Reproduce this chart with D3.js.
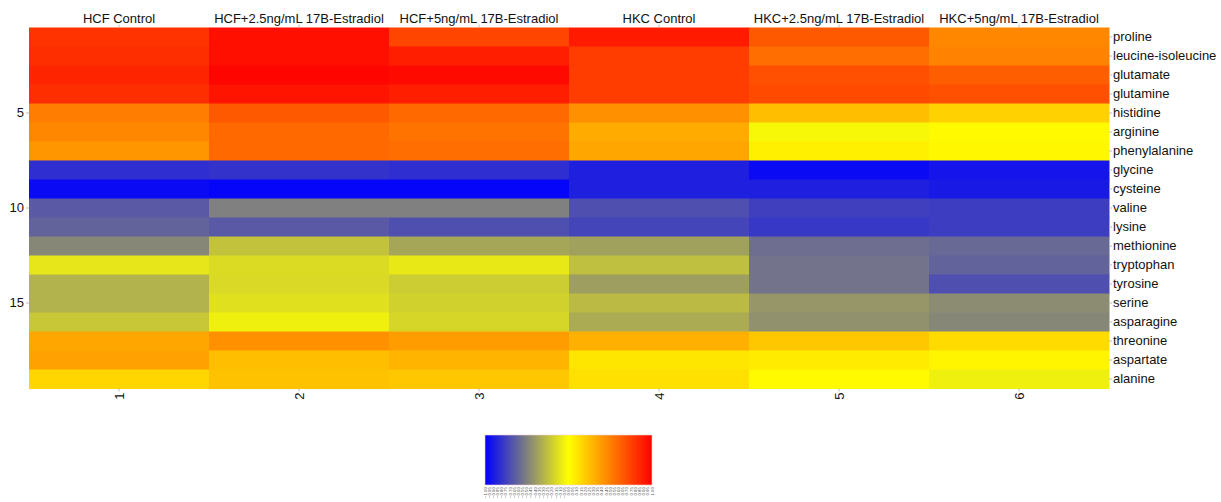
<!DOCTYPE html>
<html>
<head>
<meta charset="utf-8">
<script src="https://cdn.jsdelivr.net/npm/d3@7"></script>
<style>
  html, body { margin: 0; padding: 0; background: #fff; }
  svg { display: block; font-family: "Liberation Sans", Arial, sans-serif; }
</style>
</head>
<body>
<svg id="chart" width="1221" height="502"></svg>
<script>
const columns = ["HCF Control", "HCF+2.5ng/mL 17B-Estradiol", "HCF+5ng/mL 17B-Estradiol",
                 "HKC Control", "HKC+2.5ng/mL 17B-Estradiol", "HKC+5ng/mL 17B-Estradiol"];
const columnIndex = ["1", "2", "3", "4", "5", "6"];
const rows = ["proline", "leucine-isoleucine", "glutamate", "glutamine", "histidine", "arginine",
              "phenylalanine", "glycine", "cysteine", "valine", "lysine", "methionine",
              "tryptophan", "tyrosine", "serine", "asparagine", "threonine", "aspartate", "alanine"];
const rowTicks = [5, 10, 15];

// scaled values per column (-1 = blue, 0 = yellow, 1 = red), one per row
const hcfControl = [0.80, 0.82, 0.86, 0.82, 0.51, 0.47, 0.41, -0.82, -0.96, -0.65, -0.61, -0.47, -0.10, -0.30, -0.30, -0.22, 0.35, 0.37, 0.16];
const hcf25      = [0.94, 0.94, 0.98, 0.92, 0.65, 0.59, 0.59, -0.80, -0.98, -0.50, -0.65, -0.24, -0.14, -0.15, -0.12, -0.06, 0.43, 0.25, 0.24];
const hcf5       = [0.73, 0.88, 0.96, 0.88, 0.59, 0.55, 0.57, -0.82, -0.98, -0.50, -0.69, -0.35, -0.09, -0.20, -0.18, -0.16, 0.39, 0.29, 0.22];
const hkcControl = [0.90, 0.76, 0.76, 0.76, 0.43, 0.33, 0.35, -0.88, -0.88, -0.69, -0.73, -0.37, -0.25, -0.38, -0.27, -0.33, 0.31, 0.10, 0.12];
const hkc25      = [0.65, 0.57, 0.69, 0.71, 0.25, -0.03, 0.06, -0.96, -0.88, -0.75, -0.78, -0.57, -0.55, -0.55, -0.41, -0.43, 0.22, 0.08, 0.02];
const hkc5       = [0.47, 0.49, 0.63, 0.69, 0.18, 0.02, 0.03, -0.92, -0.90, -0.76, -0.76, -0.59, -0.61, -0.69, -0.45, -0.47, 0.14, 0.04, -0.06];
const seriesValues = [hcfControl, hcf25, hcf5, hkcControl, hkc25, hkc5];

(function () {
const cells = [];
seriesValues.forEach((vals, ci) => vals.forEach((v, ri) => cells.push({col: columns[ci], row: rows[ri], v})));

const svg = d3.select("#chart");
const mLeft = 29, mRight = 1109, mTop = 27.5, mBottom = 388.5;

const x = d3.scaleBand().domain(columns).range([mLeft, mRight]).padding(0);
const y = d3.scaleBand().domain(rows).range([mTop, mBottom]).padding(0);
const color = d3.scaleLinear().domain([-1, 0, 1]).range(["#0000ff", "#ffff00", "#ff0000"]).interpolate(d3.interpolateRgb);

svg.append("g").selectAll("rect").data(cells).join("rect")
  .attr("x", d => x(d.col))
  .attr("y", d => y(d.row))
  .attr("width", x.bandwidth() + 0.5)
  .attr("height", y.bandwidth() + 0.5)
  .attr("fill", d => color(d.v));

const tickColor = "#bbb";
const fontSize = 13;
const ff = "Liberation Sans, Arial, sans-serif";

// top axis: column names
const topAxis = svg.append("g").attr("transform", `translate(0,${mTop})`)
  .call(d3.axisTop(x).tickSize(3).tickPadding(2));
topAxis.select(".domain").remove();
topAxis.selectAll("line").attr("stroke", tickColor);
topAxis.selectAll("text").attr("font-size", fontSize).attr("fill", "#111").attr("font-family", ff);

// bottom axis: column indices, rotated
const xIdx = d3.scaleBand().domain(columnIndex).range([mLeft, mRight]);
const botAxis = svg.append("g").attr("transform", `translate(0,${mBottom})`)
  .call(d3.axisBottom(xIdx).tickSize(3).tickPadding(3));
botAxis.select(".domain").remove();
botAxis.selectAll("line").attr("stroke", tickColor);
botAxis.selectAll("text")
  .attr("font-size", fontSize).attr("fill", "#111").attr("font-family", ff)
  .attr("transform", "rotate(-90)")
  .attr("text-anchor", "end")
  .attr("dy", "0.35em")
  .attr("x", -4).attr("y", 0);

// right axis: row names
const rightAxis = svg.append("g").attr("transform", `translate(${mRight},0)`)
  .call(d3.axisRight(y).tickSize(3).tickPadding(1));
rightAxis.select(".domain").remove();
rightAxis.selectAll("line").attr("stroke", tickColor);
rightAxis.selectAll("text").attr("font-size", fontSize).attr("fill", "#111").attr("font-family", ff);

// left axis: row numbers
const yNum = d3.scaleBand().domain(d3.range(1, rows.length + 1)).range([mTop, mBottom]);
const leftAxis = svg.append("g").attr("transform", `translate(${mLeft},0)`)
  .call(d3.axisLeft(yNum).tickValues(rowTicks).tickSize(3).tickPadding(2));
leftAxis.select(".domain").remove();
leftAxis.selectAll("line").attr("stroke", tickColor);
leftAxis.selectAll("text").attr("font-size", fontSize).attr("fill", "#111").attr("font-family", ff);

// colour key
const lx0 = 485, lx1 = 652, ly0 = 435, ly1 = 485;
const defs = svg.append("defs");
const grad = defs.append("linearGradient").attr("id", "key").attr("x1", "0%").attr("x2", "100%");
const keyScale = d3.scaleLinear().domain([-1, 1]).range([lx0, lx1]);
keyScale.ticks(20).forEach(v => {
  grad.append("stop").attr("offset", ((v + 1) / 2 * 100) + "%").attr("stop-color", color(v));
});
svg.append("rect").attr("x", lx0).attr("y", ly0).attr("width", lx1 - lx0).attr("height", ly1 - ly0)
  .attr("fill", "url(#key)").attr("stroke", "#f3d0d0").attr("stroke-width", 0.6);

const keyTicks = keyScale.ticks(40);
svg.append("g").selectAll("text").data(keyTicks).join("text")
  .attr("transform", d => `translate(${keyScale(d)},${ly1 + 2}) rotate(-90)`)
  .attr("text-anchor", "end")
  .attr("dy", "0.35em")
  .attr("font-size", 4.4)
  .attr("fill", "#555")
  .text(d => d3.format(".2f")(d));
})();
</script>
</body>
</html>
